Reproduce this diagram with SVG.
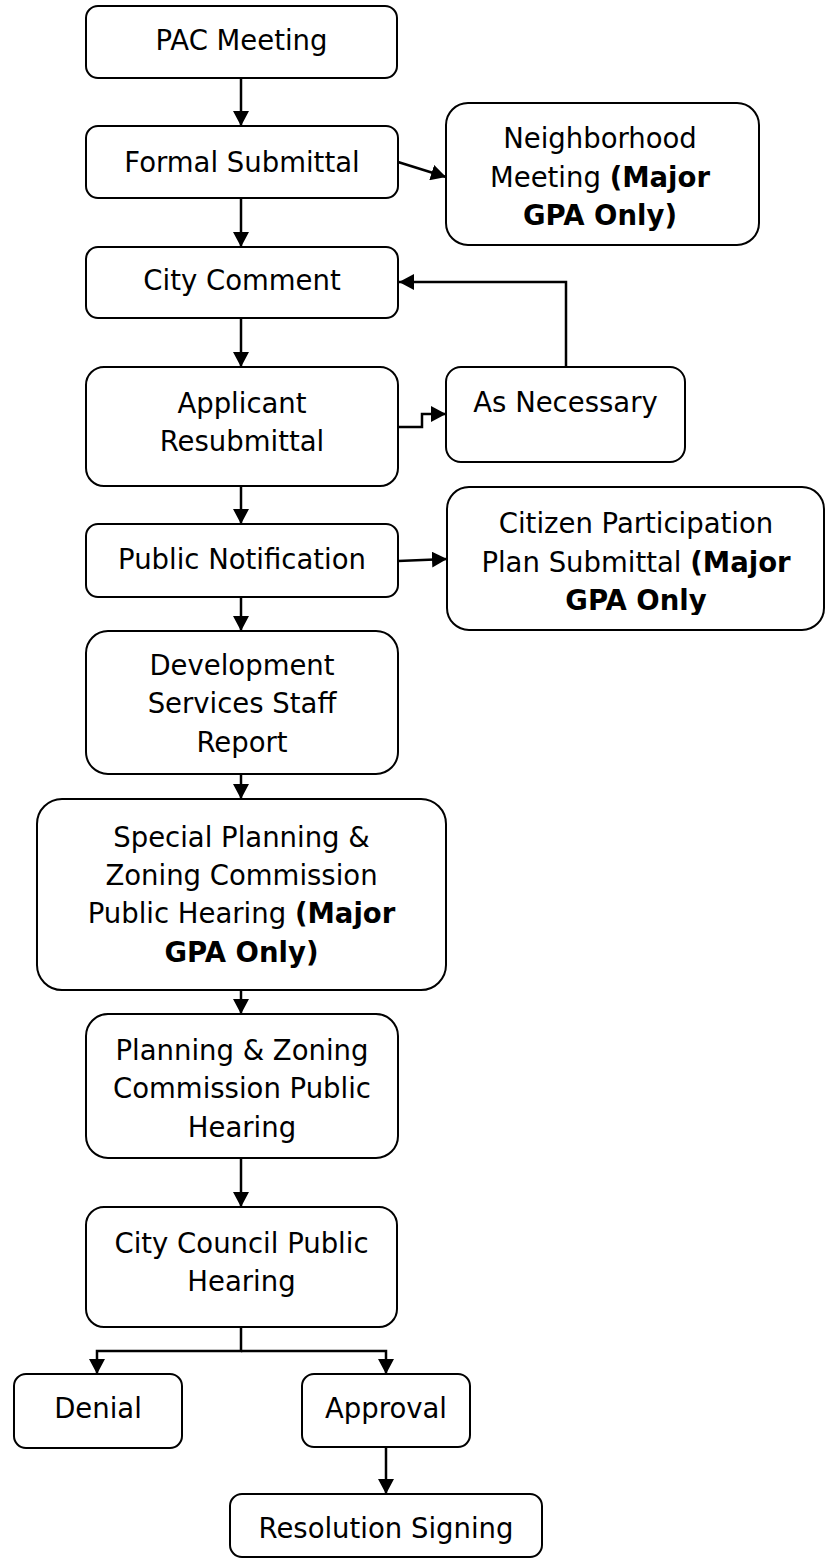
<svg xmlns="http://www.w3.org/2000/svg" width="825" height="1562" viewBox="0 0 825 1562">
<style>
.box{fill:#fff;stroke:#000;stroke-width:2}
.t{font-family:"DejaVu Sans","Verdana",sans-serif;font-size:27.5px;fill:#000;text-anchor:middle}
.b{font-weight:bold}
.c{fill:none;stroke:#000;stroke-width:2.5}
</style>
<defs>
<marker id="ah" viewBox="0 0 15 16" refX="15" refY="8" markerUnits="userSpaceOnUse" markerWidth="15" markerHeight="16" orient="auto">
<path d="M0,0 L15,8 L0,16 z" fill="#000"/>
</marker>
<clipPath id="clipPZ"><rect x="86" y="1014" width="312" height="129"/></clipPath>
<clipPath id="clipCit"><rect x="447" y="487" width="378" height="128"/></clipPath>
</defs>
<rect width="825" height="1562" fill="#fff"/>
<g id="connectors">
<path class="c" d="M241,78 V126" marker-end="url(#ah)"/>
<path class="c" d="M398,162 L446,177" marker-end="url(#ah)"/>
<path class="c" d="M241,198 V247" marker-end="url(#ah)"/>
<path class="c" d="M241,318 V367" marker-end="url(#ah)"/>
<path class="c" d="M566,367 V282 H399" marker-end="url(#ah)"/>
<path class="c" d="M398,427 H422 V414 H446" marker-end="url(#ah)"/>
<path class="c" d="M241,486 V524" marker-end="url(#ah)"/>
<path class="c" d="M398,561 L447,559" marker-end="url(#ah)"/>
<path class="c" d="M241,597 V631" marker-end="url(#ah)"/>
<path class="c" d="M241,774 V799" marker-end="url(#ah)"/>
<path class="c" d="M241,990 V1014" marker-end="url(#ah)"/>
<path class="c" d="M241,1158 V1207" marker-end="url(#ah)"/>
<path class="c" d="M241,1327 V1351 H97 V1374" marker-end="url(#ah)"/>
<path class="c" d="M241,1351 H386 V1374" marker-end="url(#ah)"/>
<path class="c" d="M386,1447 V1494" marker-end="url(#ah)"/>
</g>
<g id="pac">
<rect class="box" x="86" y="6" width="311" height="72" rx="12"/>
<text class="t" x="241.5" y="50">PAC Meeting</text>
</g>
<g id="formal">
<rect class="box" x="86" y="126" width="312" height="72" rx="12"/>
<text class="t" x="242" y="172">Formal Submittal</text>
</g>
<g id="neighborhood">
<rect class="box" x="446" y="103" width="313" height="142" rx="22"/>
<text class="t" x="600" y="148">Neighborhood</text>
<text class="t" x="600" y="186.5">Meeting <tspan class="b">(Major</tspan></text>
<text class="t b" x="600" y="225">GPA Only)</text>
</g>
<g id="city-comment">
<rect class="box" x="86" y="247" width="312" height="71" rx="12"/>
<text class="t" x="242" y="290">City Comment</text>
</g>
<g id="applicant">
<rect class="box" x="86" y="367" width="312" height="119" rx="18"/>
<text class="t" x="242" y="413">Applicant</text>
<text class="t" x="242" y="451">Resubmittal</text>
</g>
<g id="as-necessary">
<rect class="box" x="446" y="367" width="239" height="95" rx="15"/>
<text class="t" x="565.5" y="412">As Necessary</text>
</g>
<g id="public-notification">
<rect class="box" x="86" y="524" width="312" height="73" rx="12"/>
<text class="t" x="242" y="569">Public Notification</text>
</g>
<g id="citizen">
<rect class="box" x="447" y="487" width="377" height="143" rx="22"/>
<text class="t" x="636" y="533">Citizen Participation</text>
<text class="t" x="636" y="571.5">Plan Submittal <tspan class="b">(Major</tspan></text>
<text class="t b" x="636" y="610" clip-path="url(#clipCit)">GPA Only</text>
</g>
<g id="development">
<rect class="box" x="86" y="631" width="312" height="143" rx="22"/>
<text class="t" x="242" y="675">Development</text>
<text class="t" x="242" y="713">Services Staff</text>
<text class="t" x="242" y="752">Report</text>
</g>
<g id="special">
<rect class="box" x="37" y="799" width="409" height="191" rx="25"/>
<text class="t" x="241.5" y="847">Special Planning &amp;</text>
<text class="t" x="241.5" y="885">Zoning Commission</text>
<text class="t" x="241.5" y="923">Public Hearing <tspan class="b">(Major</tspan></text>
<text class="t b" x="241.5" y="962">GPA Only)</text>
</g>
<g id="pz">
<rect class="box" x="86" y="1014" width="312" height="144" rx="22"/>
<text class="t" x="242" y="1060">Planning &amp; Zoning</text>
<text class="t" x="242" y="1098">Commission Public</text>
<text class="t" x="242" y="1137" clip-path="url(#clipPZ)">Hearing</text>
</g>
<g id="city-council">
<rect class="box" x="86" y="1207" width="311" height="120" rx="18"/>
<text class="t" x="241.5" y="1253">City Council Public</text>
<text class="t" x="241.5" y="1291">Hearing</text>
</g>
<g id="denial">
<rect class="box" x="14" y="1374" width="168" height="74" rx="12"/>
<text class="t" x="98" y="1418">Denial</text>
</g>
<g id="approval">
<rect class="box" x="302" y="1374" width="168" height="73" rx="12"/>
<text class="t" x="386" y="1418">Approval</text>
</g>
<g id="resolution">
<rect class="box" x="230" y="1494" width="312" height="63" rx="12"/>
<text class="t" x="386" y="1538">Resolution Signing</text>
</g>
</svg>
